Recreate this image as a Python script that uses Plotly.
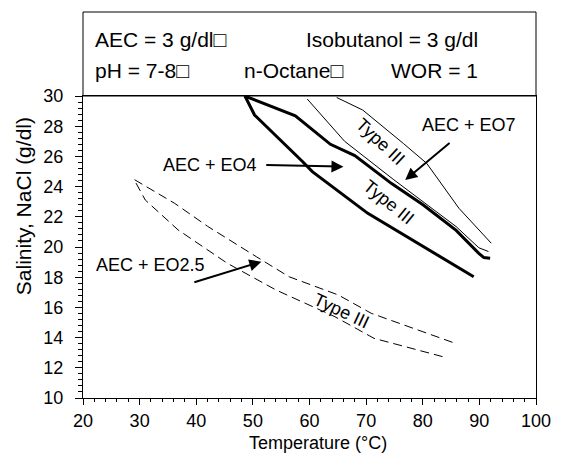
import plotly.graph_objects as go

# ---- data ----
eo7_upper_x = [64.8, 69.4, 76.6, 80.7, 86.4, 92.1]
eo7_upper_y = [29.9, 29.07, 26.85, 25.54, 22.56, 20.25]
eo7_lower_x = [59.6, 66.2, 74.9, 80.1, 85.9, 89.9, 91.6]
eo7_lower_y = [29.8, 27.0, 24.45, 23.0, 21.35, 19.95, 19.7]

eo4_upper_x = [48.6, 57.5, 63.7, 68.0, 74.5, 80.1, 85.9, 89.9, 90.8, 91.9]
eo4_upper_y = [30.0, 28.68, 26.8, 26.05, 24.2, 22.78, 21.1, 19.58, 19.3, 19.25]
eo4_lower_x = [48.6, 50.3, 58.8, 60.5, 70.3, 80.1, 89.0]
eo4_lower_y = [30.0, 28.74, 25.65, 24.99, 22.23, 20.02, 18.03]

eo25_upper_x = [29.0, 36.2, 42.0, 50.6, 56.4, 65.1, 70.9, 85.3]
eo25_upper_y = [24.48, 22.89, 21.37, 19.36, 18.03, 16.82, 15.61, 13.68]
eo25_lower_x = [29.0, 31.0, 36.8, 45.5, 54.1, 64.5, 71.4, 83.5]
eo25_lower_y = [24.48, 23.11, 21.13, 18.92, 17.15, 15.38, 13.95, 12.74]

x_ticks = [20, 30, 40, 50, 60, 70, 80, 90, 100]
y_ticks = [10, 12, 14, 16, 18, 20, 22, 24, 26, 28, 30]

series_labels = ["AEC + EO7", "AEC + EO4", "AEC + EO2.5"]
label_x = [88.2, 42.5, 32.0]
label_y = [28.08, 25.43, 18.81]
arrow_tail_x = [85.0, 52.1, 39.4]
arrow_tail_y = [26.97, 25.43, 17.64]
arrow_head_x = [76.9, 66.0, 51.5]
arrow_head_y = [24.44, 25.32, 19.03]

type_label = "Type III"
type_x = [72.6, 73.9, 65.7]
type_y = [26.97, 22.96, 15.78]
type_angle = [43, 39, 25]

box_rows = [
    ("AEC = 3 g/dl\u25a1", 93, 40),
    ("Isobutanol = 3 g/dl", 308, 40),
    ("pH = 7-8\u25a1", 93, 71),
    ("n-Octane\u25a1", 245, 71),
    ("WOR = 1", 395, 71),
]

FONT = "Liberation Sans, Arial, sans-serif"
W, H = 563, 460
L, R, T, B = 83, 18, 96, 62
PW, PH = W - L - R, H - T - B

fig = go.Figure()

def add_line(x, y, width, dash="solid"):
    fig.add_trace(go.Scatter(x=x, y=y, mode="lines",
                             line=dict(color="black", width=width, dash=dash),
                             showlegend=False, hoverinfo="skip"))

add_line(eo7_upper_x, eo7_upper_y, 1)
add_line(eo7_lower_x, eo7_lower_y, 1)
add_line(eo4_lower_x[::-1] + eo4_upper_x[1:], eo4_lower_y[::-1] + eo4_upper_y[1:], 3)
add_line(eo25_lower_x[::-1] + eo25_upper_x[1:], eo25_lower_y[::-1] + eo25_upper_y[1:], 1, "9px,5px")

annotations = []
for i, t in enumerate(series_labels):
    annotations.append(dict(x=label_x[i], y=label_y[i], xref="x", yref="y", text=t,
                            showarrow=False, font=dict(size=18, color="black", family=FONT)))
    annotations.append(dict(x=arrow_head_x[i], y=arrow_head_y[i], xref="x", yref="y",
                            ax=arrow_tail_x[i], ay=arrow_tail_y[i], axref="x", ayref="y",
                            text="", showarrow=True, arrowhead=2, arrowsize=1.2,
                            arrowwidth=2, arrowcolor="black"))
for i in range(3):
    annotations.append(dict(x=type_x[i], y=type_y[i], xref="x", yref="y", text=type_label,
                            textangle=type_angle[i], showarrow=False,
                            font=dict(size=18, color="black", family=FONT)))
for txt, px, py in box_rows:
    annotations.append(dict(x=(px - L) / PW, y=(H - B - py) / PH, xref="paper", yref="paper",
                            xanchor="left", yanchor="middle", text=txt, showarrow=False,
                            font=dict(size=21, color="black", family=FONT)))

annotations.append(dict(x=(323 - L) / PW, y=(H - B - 443) / PH, xref="paper", yref="paper",
                        xanchor="center", yanchor="middle",
                        text="Temperature (\u00b0C)", showarrow=False,
                        font=dict(size=18, color="black", family=FONT)))
annotations.append(dict(x=(22 - L) / PW, y=(H - B - 206) / PH, xref="paper", yref="paper",
                        xanchor="center", yanchor="middle",
                        text="Salinity, NaCl (g/dl)", textangle=-90, showarrow=False,
                        font=dict(size=21, color="black", family=FONT)))

fig.update_layout(
    width=W, height=H,
    margin=dict(l=L, r=R, t=T, b=B),
    paper_bgcolor="white", plot_bgcolor="white",
    font=dict(family=FONT, size=18, color="black"),
    annotations=annotations,
    shapes=[dict(type="rect", xref="paper", yref="paper", x0=0, x1=1, y0=1,
                 y1=1 + (T - 12) / PH, line=dict(color="black", width=1))],
    xaxis=dict(range=[20, 100], tickvals=x_ticks, ticks="outside", ticklen=6,
               tickcolor="black", showline=True, linecolor="black", linewidth=1,
               mirror=True, showgrid=False, zeroline=False,
               minor=dict(dtick=2, ticks="outside", ticklen=3, tickcolor="black", showgrid=False),
               tickfont=dict(size=18, family=FONT, color="black")),
    yaxis=dict(range=[10, 30], tickvals=y_ticks, ticks="outside", ticklen=7,
               tickcolor="black", showline=True, linecolor="black", linewidth=1,
               mirror=True, showgrid=False, zeroline=False, ticklabelstandoff=8,
               minor=dict(dtick=0.4, ticks="outside", ticklen=4, tickcolor="black", showgrid=False),
               tickfont=dict(size=18, family=FONT, color="black")),
)

fig.write_html("out.html")
